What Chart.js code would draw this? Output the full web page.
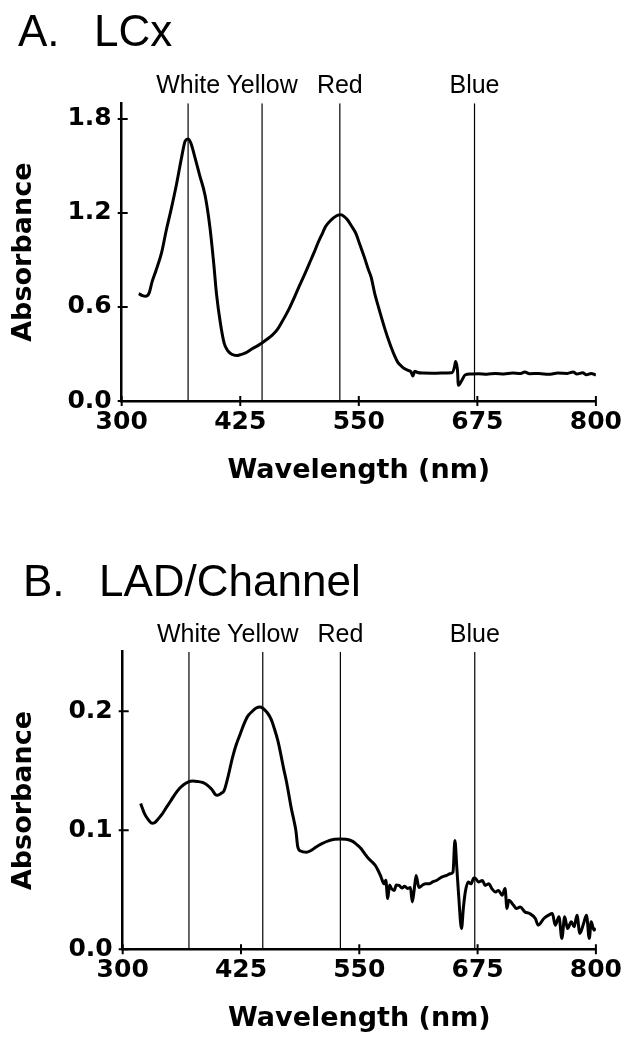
<!DOCTYPE html>
<html>
<head>
<meta charset="utf-8">
<script src="https://cdn.jsdelivr.net/npm/chart.js@4"></script>
<style>
  html, body { margin: 0; padding: 0; background: #fff; }
  body { width: 628px; height: 1039px; position: relative; overflow: hidden; }
  .panel { position: absolute; left: 0; width: 628px; }
  .ttl { position: absolute; font-family: "Liberation Sans"; font-size: 44px; line-height: 44px; color: #000; white-space: pre; }
</style>
</head>
<body>
<div class="panel" style="top:0;height:500px"><canvas id="chartA"></canvas></div>
<div class="panel" style="top:500px;height:539px"><canvas id="chartB"></canvas></div>
<div class="ttl" style="left:18px;top:9px">A.</div>
<div class="ttl" style="left:94px;top:9px">LCx</div>
<div class="ttl" style="left:23px;top:559px">B.</div>
<div class="ttl" style="left:99px;top:559px">LAD/Channel</div>
<script>
// marker lines (nm) and their names
const markerNm = [370, 448, 530, 672];
const markerNames = ['White', 'Yellow', 'Red', 'Blue'];

const xTicks = [300, 425, 550, 675, 800];
const yTicksA = [0, 0.6, 1.2, 1.8];
const yTicksB = [0, 0.1, 0.2];

// A. LCx spectrum
const wlA = [318, 322, 325, 329, 332, 336, 342, 347, 352, 358, 363, 367, 370, 373, 377, 382, 388, 393, 397, 400,
  404, 408, 412, 416, 421, 425, 430, 438, 444, 449, 454, 459, 464, 468, 473, 477, 482, 487, 493, 498,
  503, 507, 512, 515, 520, 524, 528, 531, 535, 538, 543, 547, 551, 556, 560, 563, 567, 570, 574, 577,
  581, 584, 588, 591, 595, 598, 602, 605, 607, 609, 612, 618, 627, 637, 648, 651, 652, 654, 655, 656,
  659, 662, 668, 676, 685, 694, 703, 712, 720, 725, 730, 740, 750, 760, 770, 776, 780, 786, 790, 795, 800];
const absA = [0.685, 0.672, 0.668, 0.69, 0.76, 0.83, 0.945, 1.09, 1.22, 1.39, 1.55, 1.66, 1.672, 1.645, 1.56, 1.445, 1.31, 1.11, 0.88, 0.68,
  0.50, 0.37, 0.32, 0.298, 0.29, 0.295, 0.305, 0.335, 0.355, 0.375, 0.397, 0.422, 0.455, 0.495, 0.548, 0.594, 0.66, 0.73, 0.81, 0.88,
  0.95, 1.01, 1.075, 1.114, 1.15, 1.172, 1.186, 1.188, 1.175, 1.157, 1.11, 1.068, 1.0, 0.915, 0.84, 0.79, 0.68, 0.615, 0.53, 0.47,
  0.395, 0.345, 0.285, 0.248, 0.222, 0.207, 0.195, 0.187, 0.16, 0.19, 0.182, 0.178, 0.177, 0.178, 0.18, 0.22, 0.252, 0.2, 0.10, 0.105,
  0.135, 0.166, 0.172, 0.174, 0.171, 0.176, 0.172, 0.178, 0.175, 0.185, 0.174, 0.176, 0.17, 0.178, 0.176, 0.185, 0.172, 0.18, 0.168, 0.176, 0.165];

// B. LAD/Channel spectrum
const wlB = [319, 323, 327, 331, 334, 338, 342, 346, 351, 355, 360, 364, 369, 374, 379, 385, 390, 394, 398, 400,
  404, 407, 411, 416, 420, 424, 428, 432, 437, 441, 445, 448, 453, 457, 460, 464, 467, 470, 473, 476,
  478, 481, 483, 485, 488, 494, 499, 504, 510, 518, 524, 530, 536, 543, 548, 552, 556, 560, 564, 567,
  570, 573, 576, 578, 580, 582, 584, 587, 589, 592, 595, 598, 601, 604, 606, 608, 610, 613, 617, 620,
  624, 627, 632, 637, 642, 646, 649, 651, 653, 655, 658, 660, 662, 665, 668, 671, 673, 676, 680, 683,
  687, 690, 694, 697, 701, 704, 706, 708, 713, 716, 720, 725, 730, 736, 739, 745, 750, 754, 757, 761,
  764, 767, 770, 774, 777, 780, 783, 787, 790, 793, 795, 798, 800];
const absB = [0.1225, 0.114, 0.109, 0.1058, 0.1065, 0.110, 0.114, 0.119, 0.125, 0.130, 0.135, 0.138, 0.1405, 0.1414, 0.141, 0.14, 0.1375, 0.1345, 0.130, 0.1295,
  0.131, 0.133, 0.144, 0.161, 0.172, 0.1805, 0.189, 0.1957, 0.200, 0.2027, 0.2035, 0.2025, 0.1985, 0.193, 0.186, 0.175, 0.164, 0.152, 0.141, 0.128,
  0.119, 0.108, 0.0997, 0.086, 0.0825, 0.0815, 0.083, 0.0857, 0.0885, 0.0913, 0.0925, 0.0927, 0.0925, 0.0907, 0.0875, 0.0844, 0.080, 0.076, 0.073, 0.0704,
  0.066, 0.0607, 0.0551, 0.058, 0.0426, 0.054, 0.051, 0.0495, 0.054, 0.0537, 0.0515, 0.053, 0.051, 0.052, 0.0398, 0.050, 0.062, 0.052, 0.054, 0.0551,
  0.055, 0.0565, 0.058, 0.0607, 0.062, 0.0635, 0.065, 0.0913, 0.069, 0.045, 0.0175, 0.035, 0.0481, 0.0565, 0.055, 0.0598, 0.0593, 0.0565, 0.0579, 0.0537,
  0.0551, 0.051, 0.0481, 0.0495, 0.0454, 0.051, 0.0343, 0.0412, 0.037, 0.0343, 0.0356, 0.0314, 0.030, 0.0259, 0.0203, 0.0259, 0.0287, 0.030, 0.0203, 0.0273,
  0.0092, 0.0273, 0.0175, 0.0231, 0.0189, 0.0287, 0.0134, 0.0217, 0.0287, 0.0092, 0.0231, 0.0161, 0.0175];

const tickFont = { family: 'DejaVu Sans', size: 25, weight: 'bold' };
const titleFont = { family: 'DejaVu Sans', size: 27, weight: 'bold' };

// small cross-shaped ticks through both axes
const crossTicks = {
  id: 'crossTicks',
  afterDraw(chart) {
    const { ctx, chartArea, scales } = chart;
    ctx.save();
    ctx.strokeStyle = '#000';
    ctx.lineWidth = 2;
    ctx.beginPath();
    scales.x.ticks.forEach(t => {
      const px = scales.x.getPixelForValue(t.value);
      ctx.moveTo(px, chartArea.bottom - 5);
      ctx.lineTo(px, chartArea.bottom + 5);
    });
    scales.y.ticks.forEach(t => {
      const py = scales.y.getPixelForValue(t.value);
      ctx.moveTo(chartArea.left - 4, py);
      ctx.lineTo(chartArea.left + 6, py);
    });
    ctx.stroke();
    ctx.restore();
  }
};

// names above the marker lines
const markerLabels = {
  id: 'markerLabels',
  afterDraw(chart) {
    const { ctx, chartArea, scales } = chart;
    ctx.save();
    ctx.font = '25px "Liberation Sans"';
    ctx.fillStyle = '#000';
    ctx.textAlign = 'center';
    ctx.textBaseline = 'alphabetic';
    markerNm.forEach((m, i) => {
      ctx.fillText(markerNames[i], scales.x.getPixelForValue(m), chartArea.top - 10);
    });
    ctx.restore();
  }
};

function makePanel(id, wl, ab, yMax, yTicks, box) {
  const datasets = [{
    data: wl.map((w, i) => ({ x: w, y: ab[i] })),
    borderColor: '#000',
    borderWidth: 3,
    pointRadius: 0,
    cubicInterpolationMode: 'monotone',
    fill: false
  }];
  markerNm.forEach(m => datasets.push({
    data: [{ x: m, y: 0 }, { x: m, y: yMax }],
    borderColor: '#000',
    borderWidth: 1.2,
    pointRadius: 0,
    fill: false
  }));

  return new Chart(document.getElementById(id), {
    type: 'line',
    data: { datasets: datasets },
    options: {
      responsive: true,
      maintainAspectRatio: false,
      animation: false,
      devicePixelRatio: 1,
      layout: { padding: { top: box.top, right: box.right, left: 0, bottom: 0 } },
      plugins: { legend: { display: false }, tooltip: { enabled: false } },
      scales: {
        x: {
          type: 'linear',
          min: 300,
          max: 800,
          afterFit: s => { s.height = box.xHeight; },
          afterBuildTicks: s => { s.ticks = xTicks.map(v => ({ value: v })); },
          grid: { display: false, drawTicks: false },
          border: { display: true, color: '#000', width: 2.5 },
          ticks: { color: '#000', padding: 6, font: tickFont, maxRotation: 0, autoSkip: false },
          title: { display: true, text: 'Wavelength (nm)', color: '#000', font: titleFont, padding: { top: 0, bottom: box.xTitlePad } }
        },
        y: {
          type: 'linear',
          min: 0,
          max: yMax,
          afterFit: s => { s.width = box.yWidth; },
          afterBuildTicks: s => { s.ticks = yTicks.map(v => ({ value: v })); },
          grid: { display: false, drawTicks: false },
          border: { display: true, color: '#000', width: 2.5 },
          ticks: { color: '#000', padding: 10, font: tickFont, autoSkip: false, callback: v => v.toFixed(1) },
          title: { display: true, text: 'Absorbance', color: '#000', font: titleFont, padding: { top: 7.5, bottom: 0 } }
        }
      }
    },
    plugins: [crossTicks, markerLabels]
  });
}

makePanel('chartA', wlA, absA, 1.9, yTicksA, { top: 103.3, right: 30, yWidth: 121.7, xHeight: 99, xTitlePad: 13 });
makePanel('chartB', wlB, absB, 0.25, yTicksB, { top: 151.7, right: 30.3, yWidth: 122.7, xHeight: 89.7, xTitlePad: 4 });
</script>
</body>
</html>
